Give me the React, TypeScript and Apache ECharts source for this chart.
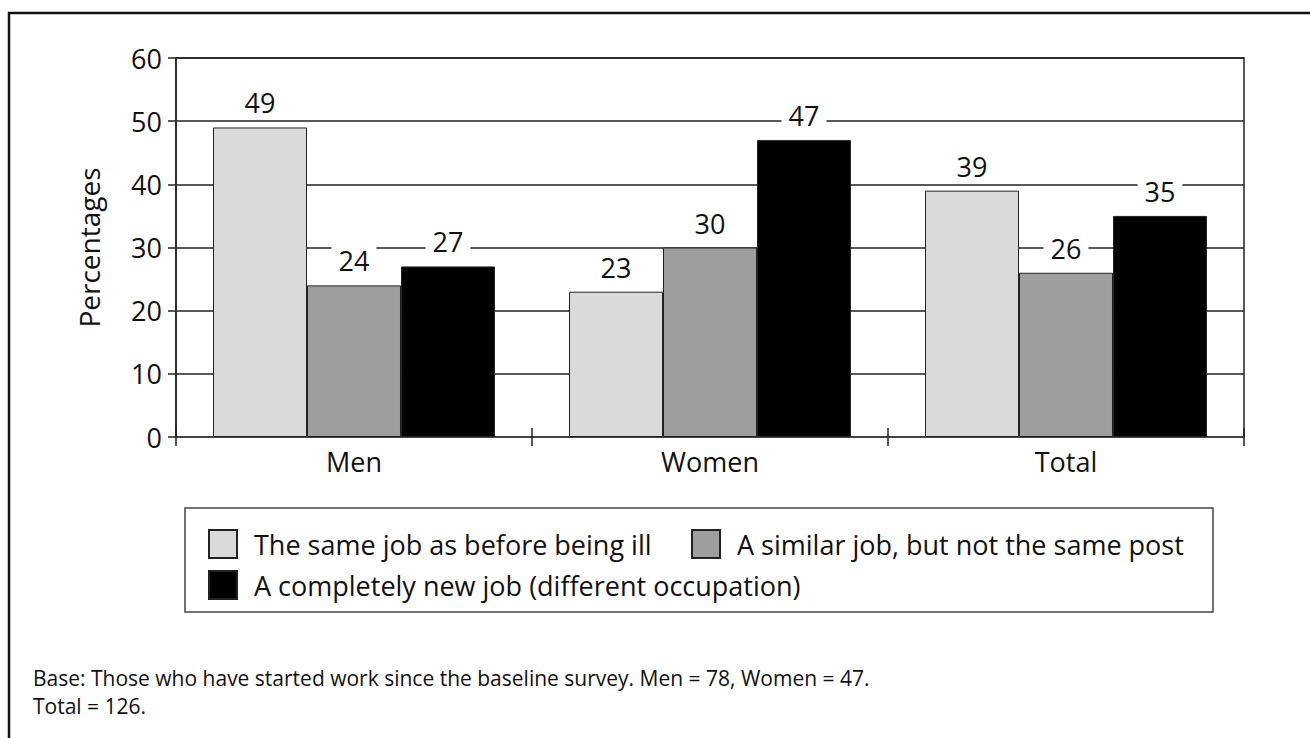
import React, { useEffect, useRef } from "react";
import * as echarts from "echarts";

// Categories and values (percentages)
const categories = ["Men", "Women", "Total"];
const sameJob = [49, 23, 39];
const similarJob = [24, 30, 26];
const newJob = [27, 47, 35];
const seriesNames = [
  "The same job as before being ill",
  "A similar job, but not the same post",
  "A completely new job (different occupation)",
];
const yTicks = { min: 0, max: 60, interval: 10 };
const baseNoteLines = [
  "Base: Those who have started work since the baseline survey. Men = 78, Women = 47.",
  "Total = 126.",
];

const FONT = "'Open Sans', 'Noto Sans', sans-serif";
const colors = ["#d9dadc", "#9d9ea0", "#000000"];

export default function App() {
  const ref = useRef<HTMLDivElement>(null);

  useEffect(() => {
    if (!ref.current) return;
    const chart = echarts.init(ref.current, undefined, { renderer: "svg" });

    const labelCfg = {
      show: true,
      position: "top",
      distance: 10,
      color: "#111",
      fontSize: 27,
      fontFamily: FONT,
      backgroundColor: "#ffffff",
      padding: [1, 7, 1, 7],
    };

    const mkSeries = (name: string, data: number[], color: string) => ({
      name,
      type: "bar",
      data,
      barGap: "0%",
      barCategoryGap: "20.8%",
      itemStyle: { color, borderColor: "#222", borderWidth: 1 },
      label: labelCfg,
    });

    const legendBase = {
      orient: "horizontal",
      itemWidth: 28,
      itemHeight: 28,
      icon: "rect",
      textStyle: {
        fontSize: 27,
        fontFamily: FONT,
        color: "#111",
        padding: [0, 0, 0, 12],
      },
      selectedMode: false,
    };

    chart.setOption({
      animation: false,
      textStyle: { fontFamily: FONT },
      grid: {
        left: 176,
        right: 66,
        top: 58,
        bottom: 301,
        show: true,
        borderColor: "#222",
        borderWidth: 1.5,
      },
      xAxis: [
        {
          type: "category",
          data: categories,
          axisLine: { lineStyle: { color: "#444", width: 2 } },
          axisTick: {
            show: true,
            length: 9,
            lineStyle: { color: "#222", width: 1.5 },
          },
          axisLabel: {
            fontSize: 27,
            color: "#111",
            fontFamily: FONT,
            margin: 11,
          },
        },
        {
          type: "category",
          data: categories,
          position: "bottom",
          axisLine: { show: false },
          axisTick: {
            show: true,
            inside: true,
            length: 9,
            lineStyle: { color: "#222", width: 1.5 },
          },
          axisLabel: { show: false },
        },
      ],
      yAxis: {
        type: "value",
        min: yTicks.min,
        max: yTicks.max,
        interval: yTicks.interval,
        name: "Percentages",
        nameLocation: "middle",
        nameRotate: 90,
        nameGap: 73,
        nameTextStyle: {
          fontSize: 28,
          fontWeight: 500,
          color: "#111",
          fontFamily: FONT,
        },
        axisLine: { show: true, lineStyle: { color: "#222", width: 1.5 } },
        axisTick: { show: true, length: 8, lineStyle: { color: "#222", width: 1.5 } },
        axisLabel: { fontSize: 27, color: "#111", fontFamily: FONT, margin: 14 },
        splitLine: { show: true, lineStyle: { color: "#222", width: 1.5 } },
      },
      legend: [
        { ...legendBase, data: [seriesNames[0]], left: 203, top: 524 },
        { ...legendBase, data: [seriesNames[1]], left: 686, top: 524 },
        { ...legendBase, data: [seriesNames[2]], left: 203, top: 565 },
      ],
      series: [
        mkSeries(seriesNames[0], sameJob, colors[0]),
        mkSeries(seriesNames[1], similarJob, colors[1]),
        mkSeries(seriesNames[2], newJob, colors[2]),
      ],
      graphic: [
        // outer frame (top and left edges)
        {
          type: "line",
          shape: { x1: 8, y1: 13, x2: 1310, y2: 13 },
          style: { stroke: "#111", lineWidth: 2.5 },
        },
        {
          type: "line",
          shape: { x1: 9, y1: 12, x2: 9, y2: 738 },
          style: { stroke: "#111", lineWidth: 2.5 },
        },
        // legend frame
        {
          type: "rect",
          shape: { x: 185, y: 508, width: 1028, height: 104 },
          style: { fill: "none", stroke: "#444", lineWidth: 1.5 },
          z: -1,
        },
        // base note, one text per line
        {
          type: "text",
          left: 33,
          top: 667,
          style: { text: baseNoteLines[0], fontSize: 21, fontFamily: FONT, fill: "#111" },
        },
        {
          type: "text",
          left: 33,
          top: 695,
          style: { text: baseNoteLines[1], fontSize: 21, fontFamily: FONT, fill: "#111" },
        },
      ],
    });

    return () => chart.dispose();
  }, []);

  return (
    <div
      ref={ref}
      style={{ position: "fixed", left: 0, top: 0, width: 1310, height: 738, background: "#fff" }}
    />
  );
}
